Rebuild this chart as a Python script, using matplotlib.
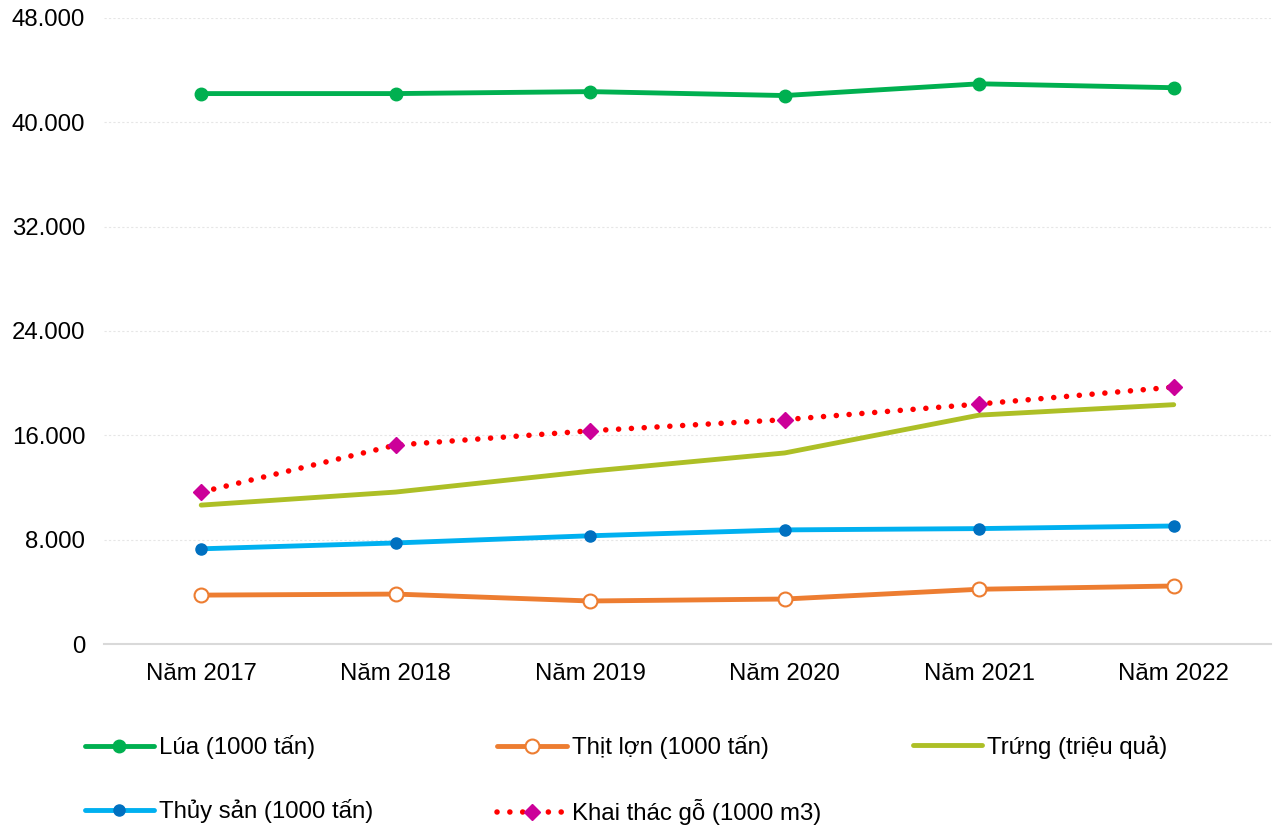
import matplotlib
matplotlib.use("Agg")
import matplotlib.pyplot as plt
from matplotlib.ticker import FuncFormatter, MultipleLocator

plt.rcParams['font.family'] = ['Liberation Sans', 'DejaVu Sans']

years = ["Năm 2017", "Năm 2018", "Năm 2019", "Năm 2020", "Năm 2021", "Năm 2022"]

lua = [42200, 42200, 42350, 42050, 42950, 42650]
thit_lon = [3750, 3830, 3300, 3450, 4200, 4450]
trung = [10650, 11650, 13250, 14650, 17550, 18350]
thuy_san = [7300, 7750, 8300, 8750, 8850, 9050]
go = [11650, 15250, 16350, 17200, 18400, 19700]

labels = ["Lúa (1000 tấn)", "Thịt lợn (1000 tấn)", "Trứng (triệu quả)",
          "Thủy sản (1000 tấn)", "Khai thác gỗ (1000 m3)"]

fig = plt.figure(figsize=(12.82, 8.26), dpi=100)
ax = fig.add_axes([0.0811, 0.2203, 0.9103, 0.758])

x = range(len(years))
fs = 17.3

h1, = ax.plot(x, lua, color="#00B050", lw=3.5, marker="o", ms=9,
              mfc="#00B050", mec="#00B050", solid_capstyle="round")
h2, = ax.plot(x, thit_lon, color="#ED7D31", lw=3.5, marker="o", ms=10,
              mfc="white", mec="#ED7D31", mew=1.5, solid_capstyle="round")
h3, = ax.plot(x, trung, color="#ADBF26", lw=3.5, solid_capstyle="round")
h4, = ax.plot(x, thuy_san, color="#00B0F0", lw=3.5, marker="o", ms=8,
              mfc="#0070C0", mec="#0070C0", solid_capstyle="round")
h5, = ax.plot(x, go, color="#FF0000", lw=4.0, linestyle=(0, (0.01, 2.3)),
              dash_capstyle="round", marker="D", ms=8,
              mfc="#CC0099", mec="#CC0099")

ax.set_xlim(-0.5, 5.5)
ax.set_ylim(0, 48000)
ax.yaxis.set_major_locator(MultipleLocator(8000))
ax.yaxis.set_major_formatter(FuncFormatter(
    lambda v, p: "0" if v == 0 else "{:,.0f}".format(v).replace(",", ".")))
ax.set_xticks(list(x))
ax.set_xticklabels(years)
ax.tick_params(axis="both", length=0, labelsize=fs, colors="black")
ax.tick_params(axis="y", pad=13.5)
ax.tick_params(axis="x", pad=14)

for s in ["top", "right", "left"]:
    ax.spines[s].set_visible(False)
ax.spines["bottom"].set_color("#D9D9D9")
ax.spines["bottom"].set_linewidth(1.5)
ax.grid(axis="y", color="#E6E6E6", lw=0.8, linestyle=(0, (2, 2)))
ax.set_axisbelow(True)

# legend, placed column by column
cols = [([h1, h4], [labels[0], labels[3]], 0.066),
        ([h2, h5], [labels[1], labels[4]], 0.388),
        ([h3], [labels[2]], 0.712)]
for hs, ls, xpos in cols:
    fig.legend(hs, ls, loc="upper left", bbox_to_anchor=(xpos, 0.110),
               frameon=False, fontsize=fs, handlelength=2.9,
               handletextpad=0.2, labelspacing=1.67, borderaxespad=0,
               borderpad=0)

fig.savefig("out.png", dpi=100)
